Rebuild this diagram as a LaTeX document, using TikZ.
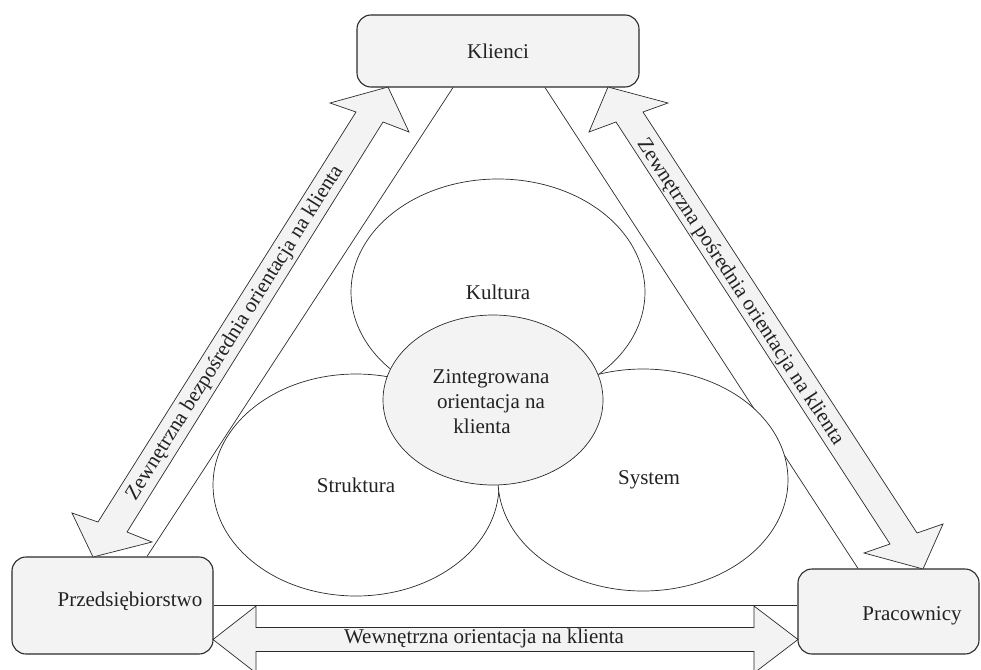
\documentclass[tikz,border=0pt]{standalone}
\usepackage{fontspec}
\setmainfont{Liberation Serif}
\usetikzlibrary{shapes.geometric,calc}
\definecolor{fillg}{HTML}{F2F3F2}
\definecolor{lineg}{HTML}{2B2B2B}
\definecolor{txtg}{HTML}{222222}
\begin{document}
\begin{tikzpicture}[x=1pt,y=-1pt,
  font=\fontsize{21}{25}\selectfont, text=txtg,
  box/.style={draw=lineg, line width=1.1pt, fill=fillg, rounded corners=14pt, inner sep=0pt},
  ell/.style={ellipse, draw=lineg, line width=0.7pt, fill=white, inner sep=0pt},
  cell/.style={ell, fill=fillg},
  thinline/.style={draw=lineg, line width=0.7pt},
  blockarrow/.style={draw=lineg, line width=0.7pt, fill=fillg, line join=miter},
  lbl/.style={inner sep=0pt}]
\useasboundingbox (0,0) rectangle (981,669);

% corner boxes
\node[box, minimum width=282pt, minimum height=72pt] (klienci) at (498,51) {Klienci};
\node[box, minimum width=201pt, minimum height=97pt] (przed) at (112.5,605.5) {};
\node[lbl] (przedtxt) at (130,601) {Przedsiębiorstwo};
\node[box, minimum width=181pt, minimum height=85pt] (prac) at (888.5,611.5) {};
\node[lbl] (practxt) at (912,616) {Pracownicy};

% triangle
\draw[thinline] ([xshift=-45pt]klienci.south) -- ([xshift=34.5pt]przed.north);
\draw[thinline] ([xshift=47pt]klienci.south) -- ([xshift=-30.5pt]prac.north);
\draw[thinline] (przed.east) -- (przed.east -| prac.west);

% block arrows
\draw[blockarrow] (388,87) -- (409,132) -- (383,122) -- (127,532) -- (152,542) -- (93,557)
  -- (72,513) -- (98,522) -- (356,112) -- (330,103) -- cycle;
\draw[blockarrow] (608,87) -- (668,103) -- (643,112) -- (917,533) -- (943,524) -- (923,569)
  -- (864,553) -- (890,544) -- (616,122) -- (589,132) -- cycle;
\draw[blockarrow] (213,639.5) -- (256,606) -- (256,627.5) -- (754,627.5) -- (754,606) -- (798,639.5)
  -- (754,673) -- (754,651.5) -- (256,651.5) -- (256,673) -- cycle;

\node[lbl, rotate=57.9] (lefttxt) at (235,333) {Zewnętrzna bezpośrednia orientacja na klienta};
\node[lbl, rotate=-56.8] (righttxt) at (740,292) {Zewnętrzna pośrednia orientacja na klienta};
\node[lbl] (bottomtxt) at (484,638) {Wewnętrzna orientacja na klienta};

% ellipses
\node[ell, minimum width=294pt, minimum height=226pt] (kultura) at (498,292) {Kultura};
\node[ell, minimum width=286pt, minimum height=222pt] (struktura) at (356,485) {Struktura};
\node[ell, minimum width=290pt, minimum height=222pt] (system) at (643,480) {};
\node[lbl] (systemtxt) at (649,480) {System};
\node[cell, minimum width=220pt, minimum height=170pt] (center) at (493,400) {};
\node[lbl, align=center] (centertxt) at (491,402) {Zintegrowana\\orientacja na\\klienta\hspace*{18pt}};
\end{tikzpicture}
\end{document}
